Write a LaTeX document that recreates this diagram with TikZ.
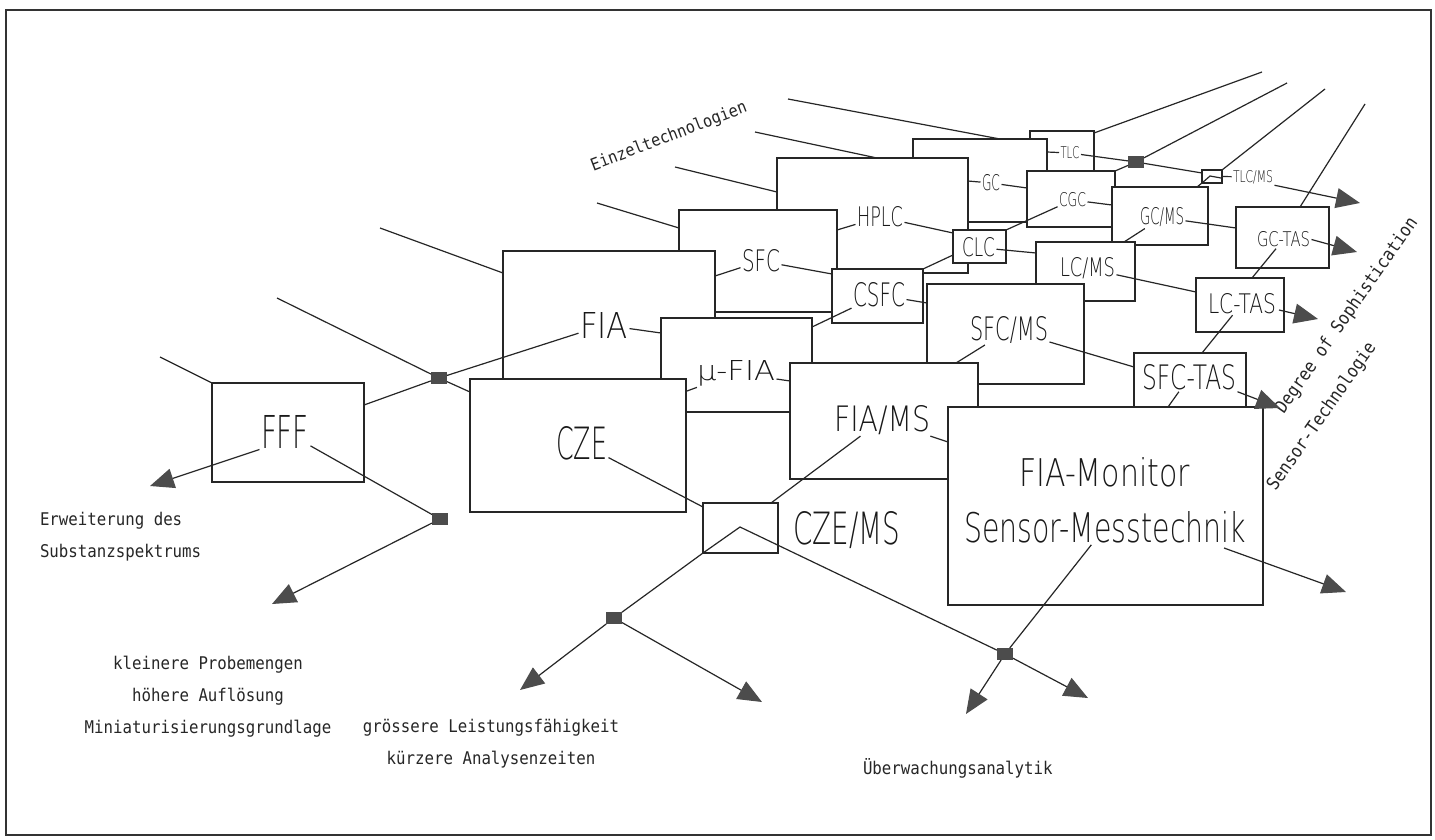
\documentclass[tikz,border=0pt]{standalone}
\usepackage{fontspec}
\usepackage{graphicx}
\usetikzlibrary{arrows.meta}
\IfFontExistsTF{DejaVuSans-ExtraLight.ttf}{\newfontfamily\pf{DejaVuSans-ExtraLight.ttf}}{\IfFontExistsTF{DejaVu Sans ExtraLight}{\newfontfamily\pf{DejaVu Sans ExtraLight}}{\newfontfamily\pf{DejaVu Sans Mono}}}
\newfontfamily\pfs[FakeStretch=0.9]{DejaVu Sans Mono}
\newcommand\lab[3]{\resizebox{#1pt}{#2pt}{\pf\fontsize{30}{30}\selectfont #3}}
\newcommand\boxnode[5]{\node[box,minimum width={(#4-#2)*1pt},minimum height={(#5-#3)*1pt}] (#1) at ({(#2+#4)/2},{(#3+#5)/2}) {};}
\begin{document}
\begin{tikzpicture}[x=1pt,y=-1pt,
  box/.style={draw=black!85,fill=white,line width=1.3pt,inner sep=0pt,outer sep=0pt},
  lbl/.style={inner sep=1.5pt,outer sep=0pt,text=black!90},
  small/.style={inner sep=1pt,outer sep=0pt,text=black!85,font=\pfs\fontsize{17.5}{32}\selectfont},
  sq/.style={fill=black!70,minimum width=16pt,minimum height=12pt,inner sep=0pt,outer sep=0pt},
  ln/.style={draw=black!85,line width=1.2pt},
  arr/.style={ln,-{Triangle[length=24pt,width=20pt,color=black!70]}}]
\useasboundingbox (0,0) rectangle (1435,839);
\fill[white] (0,0) rectangle (1435,839);
\draw[line width=2pt,black!80] (6,10) rectangle (1431,835);

% boxes, back to front
\boxnode{tlcB}{1030}{131}{1094}{176}
\boxnode{gcB}{913}{139}{1047}{222}
\boxnode{cgcB}{1027}{171}{1115}{227}
\boxnode{gcmsB}{1112}{187}{1208}{245}
\boxnode{hplcB}{777}{158}{968}{273}
\boxnode{sfcB}{679}{210}{837}{312}
\boxnode{clcB}{953}{230}{1006}{263}
\boxnode{csfcB}{832}{269}{923}{323}
\boxnode{lcmsB}{1036}{242}{1135}{301}
\boxnode{sfcmsB}{927}{284}{1084}{384}
\boxnode{fiaB}{503}{251}{715}{390}
\boxnode{mufiaB}{661}{318}{812}{412}
\boxnode{czeB}{470}{379}{686}{512}
\boxnode{fiamsB}{790}{363}{978}{479}
\boxnode{sfctasB}{1134}{353}{1246}{415}
\boxnode{fiamonB}{948}{407}{1263}{605}
\boxnode{lctasB}{1196}{278}{1284}{332}
\boxnode{gctasB}{1236}{207}{1329}{268}
\boxnode{tlcmsB}{1202}{170}{1222}{183}
\boxnode{fffB}{212}{383}{364}{482}
\boxnode{czemsB}{703}{503}{778}{553}

% labels (width, height of the lettering as printed)
\node[lbl] (fffL) at (285,431.5) {\lab{48}{33}{FFF}};
\node[lbl] (czeL) at (581.5,443.5) {\lab{51}{33}{CZE}};
\node[lbl] (fiaL) at (604,325) {\lab{48}{26}{FIA}};
\node[lbl] (mufiaL) at (736,373) {\lab{78}{20}{µ-FIA}};
\node[lbl] (sfcL) at (761,261) {\lab{38}{22}{SFC}};
\node[lbl] (hplcL) at (880,217) {\lab{46}{20}{HPLC}};
\node[lbl] (csfcL) at (879,295) {\lab{52}{24}{CSFC}};
\node[lbl] (gcL) at (991,183) {\lab{18}{16}{GC}};
\node[lbl] (tlcL) at (1070,153) {\lab{19}{12}{TLC}};
\node[lbl] (cgcL) at (1072.5,200) {\lab{27}{14}{CGC}};
\node[lbl] (clcL) at (978.5,247.5) {\lab{33}{19}{CLC}};
\node[lbl] (lcmsL) at (1087.5,268.5) {\lab{55}{19}{LC/MS}};
\node[lbl] (gcmsL) at (1162,217.5) {\lab{44}{17}{GC/MS}};
\node[lbl] (gctasL) at (1283.5,239.5) {\lab{53}{15}{GC-TAS}};
\node[lbl] (lctasL) at (1242,303.5) {\lab{68}{20}{LC-TAS}};
\node[lbl] (sfctasL) at (1189,377.5) {\lab{94}{25}{SFC-TAS}};
\node[lbl] (sfcmsL) at (1009,330) {\lab{78}{24}{SFC/MS}};
\node[lbl] (fiamsL) at (882,420) {\lab{96}{26}{FIA/MS}};
\node[lbl] (czemsL) at (846.5,530) {\lab{107}{33}{CZE/MS}};
\node[lbl] (fiamonL) at (1104.5,472.5) {\lab{171}{29}{FIA-Monitor}};
\node[lbl] (sensL) at (1105,527.5) {\lab{282}{31}{Sensor-Messtechnik}};
\node[lbl] (tlcmsL) at (1253,177) {\lab{40}{12}{TLC/MS}};

% free texts
\node[small,font=\pfs\fontsize{17}{17}\selectfont,rotate=21] (einL) at (669,137) {Einzeltechnologien};
\node[small,font=\pfs\fontsize{18}{18}\selectfont,rotate=55] (degL) at (1347,316) {Degree of Sophistication};
\node[small,font=\pfs\fontsize{18}{18}\selectfont,rotate=55] (sentL) at (1322,417) {Sensor-Technologie};
\node[small,align=left,anchor=base west] (erwL) at (39,557) {Erweiterung des\\Substanzspektrums};
\node[small,align=center,anchor=base] (kleinL) at (208,733) {kleinere Probemengen\\höhere Auflösung\\Miniaturisierungsgrundlage};
\node[small,align=center,anchor=base] (groessL) at (491,764) {grössere Leistungsfähigkeit\\kürzere Analysenzeiten};
\node[small,anchor=base west] (uebL) at (862,774) {Überwachungsanalytik};

% junction squares
\node[sq] (sq1) at (439,378) {};
\node[sq] (sq2) at (440,519) {};
\node[sq] (sq3) at (614,618) {};
\node[sq] (sq4) at (1005,654) {};
\node[sq] (sqT) at (1136,162) {};

% free ends of rays
\coordinate (r1) at (160,357);
\coordinate (r2) at (277,298);
\coordinate (r3) at (380,228);
\coordinate (r4) at (597,203);
\coordinate (r5) at (675,167);
\coordinate (r6) at (755,132);
\coordinate (r7) at (788,99);
\coordinate (r8) at (1262,72);
\coordinate (r9) at (1287,83);
\coordinate (r10) at (1325,89);
\coordinate (r11) at (1365,104);
% points on box edges
\coordinate (e3) at (503,273);
\coordinate (e4) at (679,228);
\coordinate (e5) at (777,192);
\coordinate (e6) at (877,158);
\coordinate (e7) at (1000,139);
\coordinate (e8) at (1094,133);
\coordinate (e11) at (1300,207);
\coordinate (fffR) at (364,405);
\coordinate (czeTL) at (470,392);
\coordinate (mufiaW) at (661,333);
\coordinate (fiaE) at (715,276);
\coordinate (csfcW) at (832,274);
\coordinate (sfcE) at (837,230);
\coordinate (clcW) at (953,233);
\coordinate (clcW2) at (953,255);
\coordinate (hplcE) at (968,181);
\coordinate (cgcW) at (1027,188);
\coordinate (gcE) at (1047,152);
\coordinate (tlcmsW) at (1202,173);
\coordinate (gcmsW) at (1112,205);
\coordinate (lcmsW) at (1036,253);
\coordinate (sfcmsW) at (927,303);
\coordinate (mufiaNE) at (812,327);
\coordinate (czeE) at (687,391);
\coordinate (fiamsW) at (790,381);
\coordinate (lcmsN) at (1124,242);
\coordinate (gctasW) at (1236,228);
\coordinate (gcmsN) at (1197,187);
\coordinate (lctasW) at (1196,292);
\coordinate (lctasN) at (1252,278);
\coordinate (sfctasN) at (1202,353);
\coordinate (sfctasW) at (1134,367);
\coordinate (fiamsN) at (956,363);
\coordinate (fiamonN) at (1168,407);
\coordinate (fiamonW) at (948,442);
\coordinate (czemsN) at (771,503);
\coordinate (czemsW) at (703,507);
\coordinate (peak) at (740,527);
\coordinate (tlcpeak) at (1210,176);
\coordinate (tlcend) at (1221,178);
\coordinate (sensS) at (1224,548);
\coordinate (lctasE) at (1279,310);
% arrow tips
\coordinate (t1) at (150,486);
\coordinate (t2) at (272,604);
\coordinate (t3) at (520,690);
\coordinate (t4) at (762,702);
\coordinate (t5) at (966,714);
\coordinate (t6) at (1088,698);
\coordinate (t7) at (1346,592);
\coordinate (t8) at (1280,408);
\coordinate (t9) at (1318,319);
\coordinate (t10) at (1357,252);
\coordinate (t11) at (1360,203);

% rays
\draw[ln] (r1) -- (fffB.north west);
\draw[ln] (r2) -- (sq1);
\draw[ln] (r3) -- (e3);
\draw[ln] (r4) -- (e4);
\draw[ln] (r5) -- (e5);
\draw[ln] (r6) -- (e6);
\draw[ln] (r7) -- (e7);
\draw[ln] (e8) -- (r8);
\draw[ln] (sqT) -- (r9);
\draw[ln] (tlcmsB.north east) -- (r10);
\draw[ln] (e11) -- (r11);

% connectors
\draw[ln] (fffL) -- (sq2);
\draw[ln] (fffR) -- (sq1);
\draw[ln] (sq1) -- (czeTL);
\draw[ln] (sq1) -- (fiaL);
\draw[ln] (fiaL) -- (mufiaW);
\draw[ln] (sfcL) -- (fiaE);
\draw[ln] (sfcL) -- (csfcW);
\draw[ln] (sfcE) -- (hplcL);
\draw[ln] (hplcL) -- (clcW);
\draw[ln] (hplcE) -- (gcL);
\draw[ln] (gcL) -- (cgcW);
\draw[ln] (gcE) -- (tlcL);
\draw[ln] (tlcL) -- (sqT) -- (tlcmsW);
\draw[ln] (cgcB.north east) -- (sqT);
\draw[ln] (cgcL) -- (gcmsW);
\draw[ln] (cgcL) -- (clcB.north east);
\draw[ln] (clcL) -- (lcmsW);
\draw[ln] (clcW2) -- (csfcB.north east);
\draw[ln] (csfcL) -- (sfcmsW);
\draw[ln] (csfcL) -- (mufiaNE);
\draw[ln] (mufiaL) -- (czeE);
\draw[ln] (mufiaL) -- (fiamsW);
\draw[ln] (lcmsN) -- (gcmsL);
\draw[ln] (gcmsL) -- (gctasW);
\draw[ln] (gcmsN) -- (tlcmsB.south west) -- (tlcpeak) -- (tlcend);
\draw[ln] (tlcmsB.east) -- (tlcmsL);
\draw[ln] (lcmsL) -- (lctasW);
\draw[ln] (gctasL) -- (lctasN);
\draw[ln] (lctasL) -- (sfctasN);
\draw[ln] (sfcmsL) -- (sfctasW);
\draw[ln] (sfcmsL) -- (fiamsN);
\draw[ln] (sfctasL) -- (fiamonN);
\draw[ln] (fiamsL) -- (fiamonW);
\draw[ln] (czemsN) -- (fiamsL);
\draw[ln] (czeL) -- (czemsW);
\draw[ln] (sq3) -- (czemsB.south west) -- (peak) -- (sq4);
\draw[ln] (sensL) -- (sq4);

% arrows
\draw[arr] (fffL.south west) -- (t1);
\draw[arr] (sq2) -- (t2);
\draw[arr] (sq3) -- (t3);
\draw[arr] (sq3) -- (t4);
\draw[arr] (sq4) -- (t5);
\draw[arr] (sq4) -- (t6);
\draw[arr] (sensS) -- (t7);
\draw[arr] (sfctasL.south east) -- (t8);
\draw[arr] (lctasE) -- (t9);
\draw[arr] (gctasL.east) -- (t10);
\draw[arr] (tlcmsL.south east) -- (t11);
\end{tikzpicture}
\end{document}
